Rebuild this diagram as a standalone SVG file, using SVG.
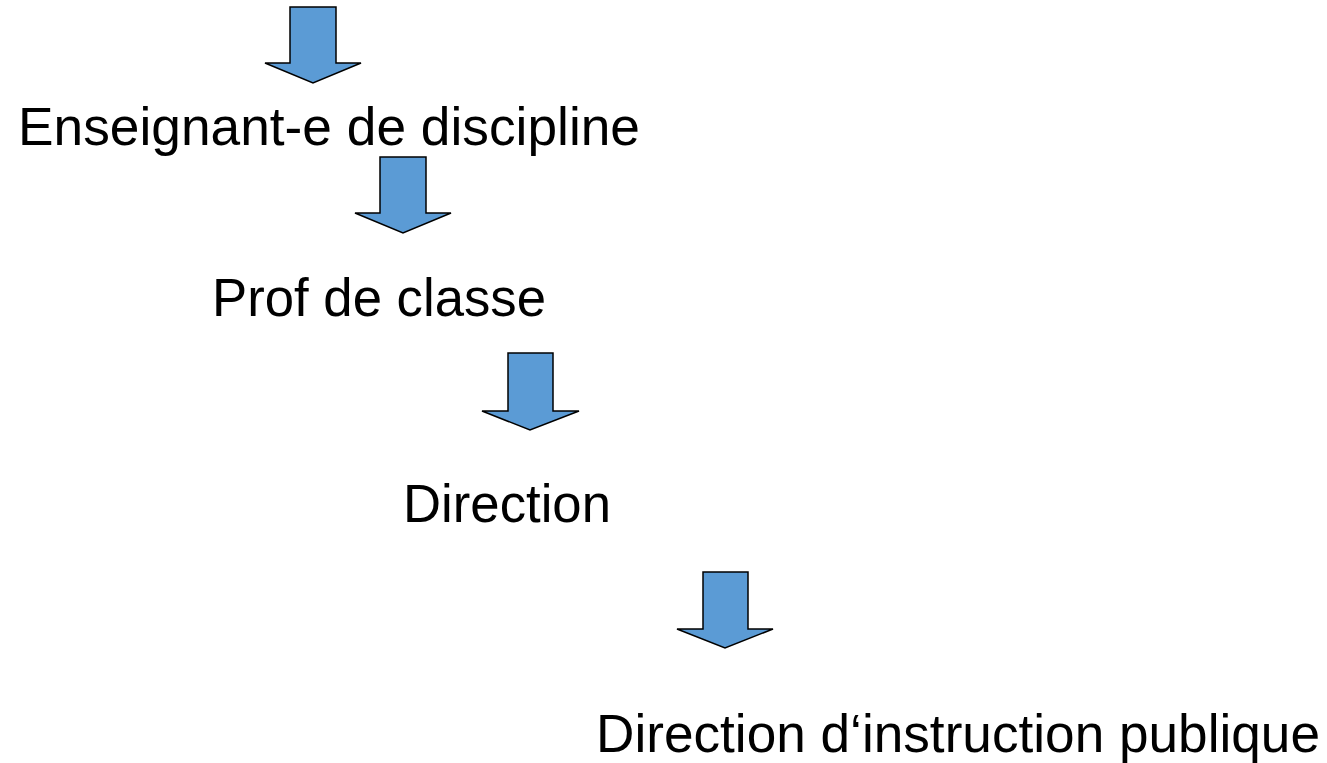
<svg xmlns="http://www.w3.org/2000/svg" width="1327" height="763" viewBox="0 0 1327 763">
<style>
.arrow{fill:#5B9BD5;stroke:#000;stroke-width:1.5;stroke-linejoin:miter}
.lbl{font-family:"Liberation Sans",Arial,sans-serif;font-size:53px;fill:#000}
</style>
<rect width="1327" height="763" fill="#fff"/>
<g id="connectors">
<path id="arrow1" class="arrow" d="M290,7 H336 V63 H361 L313,83 L265,63 H290 Z"/>
<path id="arrow2" class="arrow" d="M380,157 H426 V213 H451 L403,233 L355,213 H380 Z"/>
<path id="arrow3" class="arrow" d="M508,353 H553 V411 H579 L530,430 L482,411 H508 Z"/>
<path id="arrow4" class="arrow" d="M703,572 H748 V629 H773 L725,648 L677,629 H703 Z"/>
</g>
<g id="node1"><text class="lbl" x="18" y="145" textLength="622" lengthAdjust="spacingAndGlyphs">Enseignant-e de discipline</text></g>
<g id="node2"><text class="lbl" x="212" y="316" textLength="334" lengthAdjust="spacingAndGlyphs">Prof de classe</text></g>
<g id="node3"><text class="lbl" x="403" y="522" textLength="208" lengthAdjust="spacingAndGlyphs">Direction</text></g>
<g id="node4"><text class="lbl" x="596" y="752" textLength="724" lengthAdjust="spacingAndGlyphs">Direction d‘instruction publique</text></g>
</svg>
